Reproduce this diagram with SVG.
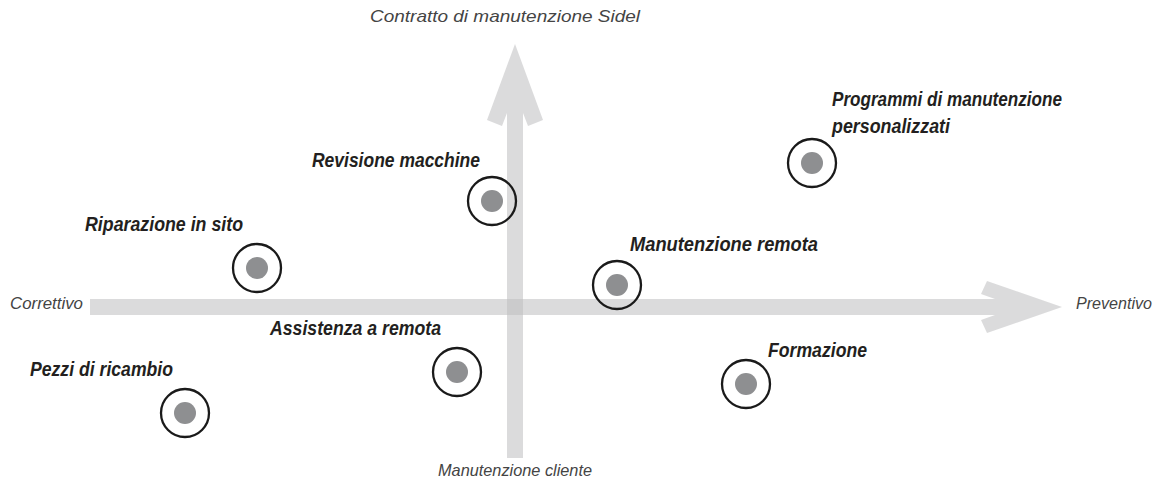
<svg xmlns="http://www.w3.org/2000/svg" width="1155" height="482" viewBox="0 0 1155 482">
<style>
.axis{fill:#bdbec0;fill-opacity:0.55}
.ring{fill:none;stroke:#1a1a1a;stroke-width:2.3}
.dot{fill:#8e8f91}
.lbl{font-family:"Liberation Sans Narrow","Liberation Sans",Arial,sans-serif;font-style:italic;font-weight:bold;font-size:20.5px;fill:#231f20}
.ax{font-family:"Liberation Sans Narrow","Liberation Sans",Arial,sans-serif;font-style:italic;font-size:16.5px;fill:#444444}
</style>
<rect width="1155" height="482" fill="#ffffff"/>
<g id="connectors">
<polygon class="axis" points="90,299 995,299 981,294 987,281 1062,307 987,333 981,320 995,315 90,315"/>
<polygon class="axis" points="515,44 543,120 528,126 523,113 523,458 507,458 507,113 502,126 487,120"/>
</g>
<g id="axis-labels">
<text class="ax" x="370" y="22" textLength="270" lengthAdjust="spacingAndGlyphs">Contratto di manutenzione Sidel</text>
<text class="ax" x="10" y="309" textLength="73" lengthAdjust="spacingAndGlyphs">Correttivo</text>
<text class="ax" x="1076" y="309" textLength="76" lengthAdjust="spacingAndGlyphs">Preventivo</text>
<text class="ax" x="438" y="476" textLength="154" lengthAdjust="spacingAndGlyphs">Manutenzione cliente</text>
</g>
<g id="node-riparazione">
<circle class="ring" cx="257" cy="268" r="24"/><circle class="dot" cx="257" cy="268" r="11"/>
<text class="lbl" x="85" y="231" textLength="158" lengthAdjust="spacingAndGlyphs">Riparazione in sito</text>
</g>
<g id="node-revisione">
<circle class="ring" cx="492" cy="201" r="24"/><circle class="dot" cx="492" cy="201" r="11"/>
<text class="lbl" x="312" y="167" textLength="168" lengthAdjust="spacingAndGlyphs">Revisione macchine</text>
</g>
<g id="node-manutenzione-remota">
<circle class="ring" cx="617" cy="285" r="24"/><circle class="dot" cx="617" cy="285" r="11"/>
<text class="lbl" x="630" y="251" textLength="188" lengthAdjust="spacingAndGlyphs">Manutenzione remota</text>
</g>
<g id="node-programmi">
<circle class="ring" cx="812" cy="163" r="24"/><circle class="dot" cx="812" cy="163" r="11"/>
<text class="lbl" x="832" y="106" textLength="230" lengthAdjust="spacingAndGlyphs">Programmi di manutenzione</text>
<text class="lbl" x="832" y="133" textLength="118" lengthAdjust="spacingAndGlyphs">personalizzati</text>
</g>
<g id="node-assistenza">
<circle class="ring" cx="457" cy="372" r="24"/><circle class="dot" cx="457" cy="372" r="11"/>
<text class="lbl" x="270" y="335" textLength="171" lengthAdjust="spacingAndGlyphs">Assistenza a remota</text>
</g>
<g id="node-formazione">
<circle class="ring" cx="746" cy="384" r="24"/><circle class="dot" cx="746" cy="384" r="11"/>
<text class="lbl" x="768" y="357" textLength="99" lengthAdjust="spacingAndGlyphs">Formazione</text>
</g>
<g id="node-pezzi">
<circle class="ring" cx="185" cy="413" r="24"/><circle class="dot" cx="185" cy="413" r="11"/>
<text class="lbl" x="30" y="376" textLength="143" lengthAdjust="spacingAndGlyphs">Pezzi di ricambio</text>
</g>
</svg>
